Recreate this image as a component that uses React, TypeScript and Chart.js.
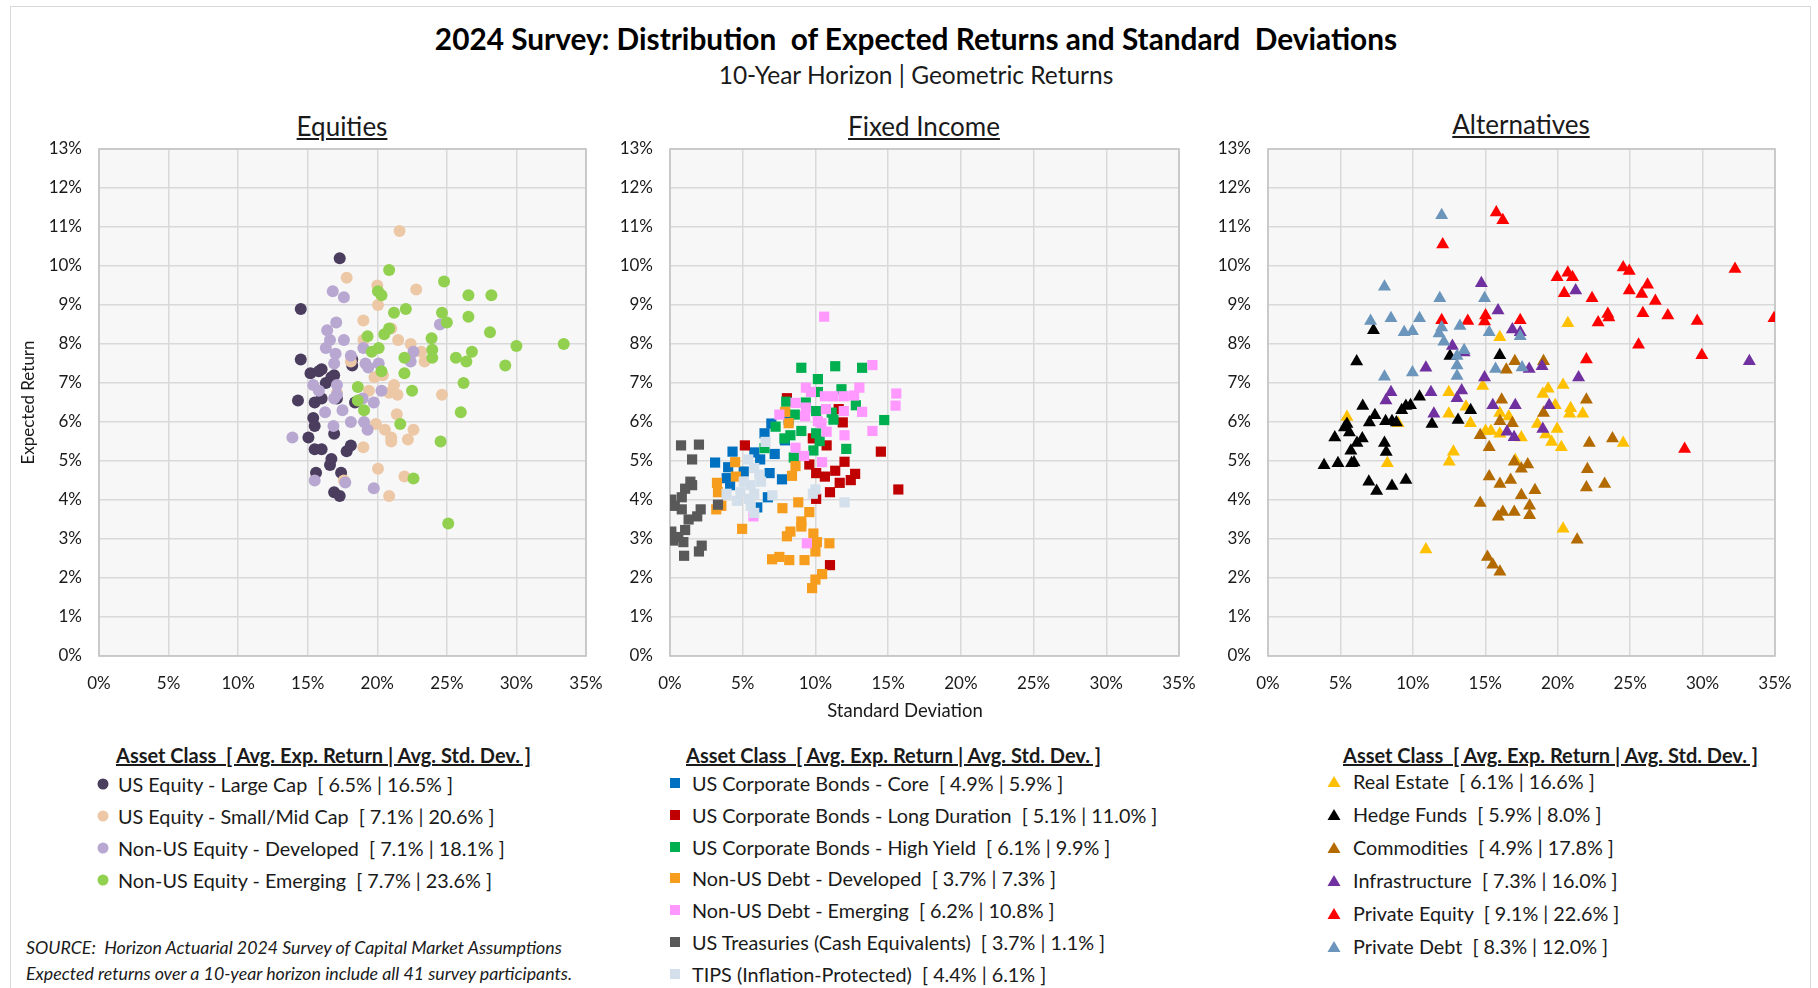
import React, { useEffect, useRef } from "react";
import { Chart, registerables } from "chart.js";

Chart.register(...registerables);

// ---------- DATA: [standard deviation %, expected return %] ----------
// Equities
const usLargeCap = [
  [17.3, 10.2], [14.5, 8.9], [14.5, 7.6], [15.2, 7.25], [16.0, 7.35], [16.7, 7.15], [16.3, 7.0], [18.2, 7.45],
  [18.2, 7.6], [14.3, 6.55], [15.5, 6.5], [16.0, 6.6], [17.1, 6.6], [18.4, 6.5], [15.4, 6.1], [15.5, 5.9],
  [16.9, 5.7], [15.05, 5.6], [15.5, 5.3], [16.0, 5.3], [17.8, 5.25], [18.1, 5.4], [16.7, 5.05], [16.6, 4.9],
  [17.4, 4.7], [15.6, 4.7], [16.9, 4.2], [17.3, 4.1], [16.9, 7.2], [15.8, 7.3],
];
const usSmallMidCap = [
  [21.6, 10.9], [17.8, 9.7], [20.0, 9.5], [22.8, 9.4], [20.05, 9.0], [19.0, 8.6], [21.0, 8.4], [19.0, 8.1],
  [21.5, 8.1], [22.4, 8.0], [23.15, 7.8], [23.4, 7.55], [18.1, 7.55], [19.8, 7.15], [20.4, 7.2], [21.2, 6.95],
  [21.45, 6.7], [20.85, 6.75], [19.4, 6.8], [24.65, 6.7], [17.1, 6.75], [21.4, 6.2], [19.9, 5.95], [20.55, 5.8],
  [21.0, 5.6], [21.0, 5.5], [22.2, 5.55], [22.6, 5.8], [19.0, 5.35], [20.05, 4.8], [21.95, 4.6], [17.6, 4.5],
  [20.85, 4.1],
];
const nonUsEquityDev = [
  [16.8, 9.35], [17.6, 9.2], [17.05, 8.55], [16.4, 8.35], [16.6, 8.1], [17.6, 8.1], [16.3, 7.9], [17.0, 7.75],
  [18.1, 7.7], [19.0, 7.9], [16.9, 7.5], [19.15, 7.5], [20.1, 7.5], [22.6, 7.8], [22.4, 7.55], [24.5, 8.5],
  [19.35, 7.4], [15.4, 6.95], [17.1, 6.95], [15.8, 6.8], [17.1, 6.7], [16.9, 6.6], [20.3, 6.8], [19.75, 6.5],
  [18.95, 6.6], [16.25, 6.25], [17.5, 6.3], [16.85, 5.9], [18.1, 6.0], [19.05, 6.0], [19.3, 5.8], [13.9, 5.6],
  [15.5, 4.5], [17.7, 4.45], [19.75, 4.3],
];
const nonUsEquityEm = [
  [20.85, 9.9], [24.8, 9.6], [20.05, 9.35], [20.3, 9.25], [26.55, 9.25], [28.2, 9.25], [21.2, 8.8], [22.05, 8.9],
  [24.65, 8.8], [25.0, 8.55], [26.55, 8.7], [20.85, 8.4], [20.5, 8.25], [19.3, 8.2], [23.9, 8.15], [28.1, 8.3],
  [30.0, 7.95], [33.4, 8.0], [20.1, 7.9], [19.6, 7.8], [23.95, 7.85], [26.8, 7.8], [21.95, 7.65], [23.95, 7.65],
  [25.65, 7.65], [26.4, 7.55], [29.2, 7.45], [20.3, 7.3], [21.95, 7.25], [18.6, 6.9], [22.5, 6.8], [26.2, 7.0],
  [18.6, 6.55], [19.05, 6.3], [26.0, 6.25], [21.65, 5.95], [24.55, 5.5], [22.6, 4.55], [25.1, 3.4],
];

// Fixed income
const corpCore = [
  [4.3, 5.24], [3.1, 4.96], [4.0, 4.84], [5.8, 5.22], [6.5, 5.71], [6.97, 5.96], [7.2, 5.18], [6.2, 5.04],
  [6.85, 4.69], [7.7, 4.53], [3.9, 4.56], [4.13, 4.38], [6.73, 4.07], [6.0, 3.81], [7.9, 5.53], [8.16, 6.06],
  [5.07, 4.73],
];
const corpLong = [
  [8.04, 6.61], [5.15, 5.4], [11.88, 5.99], [11.6, 6.33], [10.77, 5.4], [9.82, 5.58], [14.5, 5.24], [12.0, 4.98],
  [9.58, 4.91], [10.05, 4.69], [11.36, 4.75], [12.73, 4.67], [10.65, 4.6], [11.67, 4.44], [12.43, 4.51], [15.7, 4.27],
  [11.0, 4.2], [10.05, 4.03], [11.0, 2.33],
];
const corpHighYield = [
  [9.03, 7.39], [11.36, 7.43], [13.21, 7.39], [10.17, 7.1], [11.79, 6.84], [10.17, 6.77], [7.99, 6.52], [9.34, 6.5],
  [12.78, 6.43], [8.58, 6.19], [10.05, 6.28], [11.12, 6.24], [11.24, 6.06], [14.73, 6.05], [7.26, 5.88], [9.03, 5.77],
  [8.28, 5.66], [7.87, 5.58], [10.05, 5.71], [10.29, 5.51], [6.5, 5.33], [12.12, 5.31], [8.51, 5.09], [9.86, 5.27],
];
const nonUsDebtDev = [
  [7.92, 6.26], [8.16, 5.97], [4.48, 4.97], [8.63, 4.87], [8.39, 4.62], [4.53, 4.6], [3.23, 4.44], [3.3, 4.2],
  [3.53, 3.85], [3.18, 3.76], [8.82, 3.94], [7.73, 3.79], [9.58, 3.69], [9.03, 3.45], [9.03, 3.32], [4.96, 3.26],
  [8.28, 3.19], [8.04, 3.07], [9.86, 3.14], [10.1, 2.92], [10.96, 2.89], [10.0, 2.68], [7.02, 2.48], [7.52, 2.54],
  [8.2, 2.46], [9.25, 2.46], [10.46, 2.1], [10.0, 1.96], [9.77, 1.74],
];
const nonUsDebtEm = [
  [10.6, 8.7], [13.92, 7.46], [15.56, 6.73], [15.51, 6.42], [9.34, 6.88], [9.69, 6.77], [13.02, 6.88], [10.65, 6.66],
  [11.24, 6.66], [11.95, 6.66], [12.66, 6.68], [8.63, 6.49], [9.34, 6.37], [10.72, 6.33], [11.95, 6.28], [13.21, 6.26],
  [7.52, 6.19], [9.29, 6.15], [10.17, 6.02], [10.41, 5.97], [10.77, 5.75], [13.92, 5.77], [12.0, 5.66], [8.63, 5.34],
  [9.22, 5.13], [10.46, 4.97], [5.74, 3.58], [9.41, 2.89],
];
const treasuries = [
  [0.76, 5.4], [1.99, 5.42], [1.52, 5.04], [1.4, 4.47], [1.52, 4.38], [1.04, 4.29], [0.09, 4.01], [0.81, 4.07],
  [0.33, 3.85], [0.81, 3.76], [2.11, 3.76], [1.87, 3.58], [3.3, 3.88], [1.28, 3.5], [0.09, 3.19], [0.57, 3.05],
  [1.04, 3.23], [0.21, 2.96], [0.92, 2.92], [2.18, 2.83], [1.99, 2.68], [0.97, 2.57],
];
const tips = [
  [6.57, 5.49], [5.38, 5.04], [5.79, 4.82], [6.14, 4.65], [5.07, 4.47], [6.26, 4.47], [5.55, 4.38], [3.89, 4.16],
  [4.84, 4.2], [5.79, 4.16], [7.04, 4.12], [4.6, 3.98], [5.55, 3.85], [5.79, 3.67], [10.0, 4.27], [9.82, 4.16],
  [12.0, 3.94], [5.43, 4.03],
];

// Alternatives
const realEstate = [
  [20.7, 8.53], [16.0, 8.17], [14.82, 6.92], [12.48, 6.76], [18.97, 6.72], [19.34, 6.85], [20.37, 6.95], [5.45, 6.13],
  [8.98, 5.97], [12.48, 6.21], [13.67, 6.39], [13.98, 5.97], [16.0, 6.23], [16.62, 6.14], [19.83, 6.43], [20.89, 6.35],
  [20.82, 6.21], [21.73, 6.21], [18.6, 5.95], [15.02, 5.77], [15.39, 5.77], [16.0, 5.7], [17.49, 5.6], [19.17, 5.68],
  [19.96, 5.82], [19.58, 5.49], [20.25, 5.35], [24.52, 5.46], [12.8, 5.24], [12.51, 4.98], [8.24, 4.94], [17.07, 5.02],
  [20.37, 3.26], [10.9, 2.73],
];
const hedgeFunds = [
  [7.28, 8.35], [6.12, 7.55], [12.56, 7.69], [16.0, 7.71], [10.46, 6.65], [9.84, 6.43], [9.52, 6.41], [9.23, 6.3],
  [6.54, 6.41], [7.38, 6.17], [7.0, 5.99], [8.12, 6.02], [8.56, 6.02], [8.86, 5.99], [5.45, 5.95], [5.28, 5.86],
  [5.62, 5.73], [6.51, 5.58], [4.61, 5.6], [6.14, 5.46], [8.04, 5.46], [5.72, 5.26], [8.16, 5.23], [11.32, 5.95],
  [13.12, 6.05], [13.99, 6.3], [3.87, 4.89], [4.83, 4.94], [5.77, 4.94], [5.94, 4.96], [6.96, 4.47], [7.5, 4.23],
  [8.56, 4.36], [9.52, 4.51],
];
const commodities = [
  [17.04, 7.56], [19.02, 7.56], [16.45, 7.34], [16.13, 6.57], [21.98, 6.57], [19.02, 6.23], [16.01, 6.02], [16.87, 5.97],
  [14.65, 5.66], [15.27, 5.35], [22.18, 5.46], [23.78, 5.58], [17.0, 4.98], [17.49, 4.8], [17.93, 4.91], [22.05, 4.79],
  [15.27, 4.6], [16.75, 4.51], [16.01, 4.41], [18.43, 4.25], [21.98, 4.32], [23.24, 4.41], [17.49, 4.12], [14.65, 3.92],
  [18.06, 3.85], [18.06, 3.61], [17.0, 3.69], [16.21, 3.69], [15.89, 3.57], [21.34, 2.98], [15.15, 2.54], [15.52, 2.34],
  [16.01, 2.16],
];
const infrastructure = [
  [14.73, 9.56], [21.24, 9.37], [15.88, 8.86], [16.87, 8.37], [17.41, 8.3], [12.73, 7.95], [13.54, 7.78], [18.03, 7.36],
  [18.92, 7.43], [33.23, 7.56], [10.9, 7.39], [14.95, 7.14], [21.44, 7.14], [8.49, 6.76], [8.14, 6.55], [11.25, 6.76],
  [13.37, 6.81], [13.05, 6.61], [15.52, 6.43], [17.07, 6.43], [19.41, 6.43], [11.45, 6.21], [16.5, 5.75], [16.99, 5.61],
  [18.97, 5.82],
];
const privateEquity = [
  [15.76, 11.37], [16.21, 11.17], [12.06, 10.55], [19.96, 9.71], [20.7, 9.83], [21.02, 9.71], [24.52, 9.96], [24.94, 9.87],
  [32.24, 9.92], [20.45, 9.3], [22.37, 9.17], [24.94, 9.37], [25.8, 9.28], [26.2, 9.52], [26.74, 9.1], [23.46, 8.77],
  [23.53, 8.68], [22.79, 8.55], [25.88, 8.79], [27.6, 8.73], [29.63, 8.59], [34.93, 8.66], [11.99, 8.61], [13.79, 8.59],
  [15.02, 8.73], [14.95, 8.58], [17.41, 8.61], [25.58, 7.98], [29.95, 7.71], [21.98, 7.6], [28.76, 5.31],
];
const privateDebt = [
  [11.99, 11.3], [8.04, 9.47], [11.86, 9.17], [14.95, 9.17], [7.08, 8.59], [8.49, 8.66], [10.46, 8.66], [9.4, 8.3],
  [9.97, 8.33], [11.81, 8.27], [11.99, 8.42], [13.25, 8.46], [12.14, 8.06], [15.27, 8.3], [17.41, 8.2], [13.54, 7.84],
  [13.05, 7.69], [13.05, 7.45], [13.05, 7.18], [15.71, 7.36], [17.54, 7.4], [8.04, 7.16], [9.97, 7.27],
];

// Axis ticks
const xTickValues = [0, 5, 10, 15, 20, 25, 30, 35];
const yTickValues = [0, 1, 2, 3, 4, 5, 6, 7, 8, 9, 10, 11, 12, 13];

// Legend labels
const equityLabels = [
  "US Equity - Large Cap  [ 6.5% | 16.5% ]",
  "US Equity - Small/Mid Cap  [ 7.1% | 20.6% ]",
  "Non-US Equity - Developed  [ 7.1% | 18.1% ]",
  "Non-US Equity - Emerging  [ 7.7% | 23.6% ]",
];
const fixedLabels = [
  "US Corporate Bonds - Core  [ 4.9% | 5.9% ]",
  "US Corporate Bonds - Long Duration  [ 5.1% | 11.0% ]",
  "US Corporate Bonds - High Yield  [ 6.1% | 9.9% ]",
  "Non-US Debt - Developed  [ 3.7% | 7.3% ]",
  "Non-US Debt - Emerging  [ 6.2% | 10.8% ]",
  "US Treasuries (Cash Equivalents)  [ 3.7% | 1.1% ]",
  "TIPS (Inflation-Protected)  [ 4.4% | 6.1% ]",
];
const altLabels = [
  "Real Estate  [ 6.1% | 16.6% ]",
  "Hedge Funds  [ 5.9% | 8.0% ]",
  "Commodities  [ 4.9% | 17.8% ]",
  "Infrastructure  [ 7.3% | 16.0% ]",
  "Private Equity  [ 9.1% | 22.6% ]",
  "Private Debt  [ 8.3% | 12.0% ]",
];

const equityColors = ["#4B3D5E", "#EDC8A6", "#B7A7D1", "#92D050"];
const fixedColors = ["#0070C0", "#C00000", "#00B050", "#F79D1E", "#FF99FF", "#595959", "#D3E0EB"];
const altColors = ["#FFC000", "#000000", "#B36A00", "#7030A0", "#FF0000", "#6C95BC"];

const equitySeries = [usLargeCap, usSmallMidCap, nonUsEquityDev, nonUsEquityEm];
const fixedSeries = [corpCore, corpLong, corpHighYield, nonUsDebtDev, nonUsDebtEm, treasuries, tips];
const altSeries = [realEstate, hedgeFunds, commodities, infrastructure, privateEquity, privateDebt];

const FONT = "Lato, 'Open Sans', sans-serif";
const TEXT = "#1a1a1a";

const PLOT_TOP = 149;
const PLOT_BOTTOM = 656;
const CANVAS_TOP = 130;
const CANVAS_H = 600;

const plotPlugin = {
  id: "plotFrame",
  beforeDraw(chart: any) {
    const { ctx, chartArea: a } = chart;
    ctx.save();
    ctx.fillStyle = "#F7F7F7";
    ctx.fillRect(a.left, a.top, a.right - a.left, a.bottom - a.top);
    ctx.restore();
  },
  beforeDatasetsDraw(chart: any) {
    const { ctx, chartArea: a } = chart;
    ctx.save();
    ctx.strokeStyle = "#C4C4C4";
    ctx.lineWidth = 1.6;
    ctx.strokeRect(a.left, a.top, a.right - a.left, a.bottom - a.top);
    ctx.restore();
  },
};

function makeChart(
  canvas: HTMLCanvasElement,
  series: number[][][],
  labels: string[],
  colors: string[],
  style: string,
  radius: number,
  yAxisWidth: number,
  padRight: number,
  yTitle: string | null
) {
  const n = series.length;
  const datasets = series.map((s, i) => ({
    label: labels[i],
    data: s.map(([x, y]) => ({ x, y })),
    pointStyle: style,
    pointRadius: radius,
    pointHoverRadius: radius,
    backgroundColor: colors[i],
    borderColor: colors[i],
    borderWidth: 0,
    order: n - i,
  }));
  const tickFont = { family: FONT, size: 17 };
  const xAxisH = CANVAS_H - (PLOT_BOTTOM - CANVAS_TOP);
  return new Chart(canvas, {
    type: "scatter",
    data: { datasets },
    plugins: [plotPlugin],
    options: {
      animation: false,
      responsive: false,
      devicePixelRatio: 1,
      events: [],
      layout: { padding: { left: 0, right: padRight, top: PLOT_TOP - CANVAS_TOP, bottom: 0 } },
      plugins: { legend: { display: false }, tooltip: { enabled: false } },
      scales: {
        x: {
          type: "linear",
          min: 0,
          max: 35,
          afterBuildTicks: (scale: any) => {
            scale.ticks = xTickValues.map((v) => ({ value: v }));
          },
          afterFit: (scale: any) => {
            scale.height = xAxisH;
            scale.paddingLeft = 0;
            scale.paddingRight = 0;
          },
          ticks: {
            callback: (v: any) => v + "%",
            font: tickFont,
            color: TEXT,
            padding: 17,
            maxRotation: 0,
            autoSkip: false,
          },
          grid: { color: "#D9D9D9", lineWidth: 1.5, drawTicks: false },
          border: { display: false },
        },
        y: {
          type: "linear",
          min: 0,
          max: 13,
          afterBuildTicks: (scale: any) => {
            scale.ticks = yTickValues.map((v) => ({ value: v }));
          },
          afterFit: (scale: any) => {
            scale.width = yAxisWidth;
            scale.paddingTop = 0;
            scale.paddingBottom = 0;
          },
          ticks: {
            callback: (v: any) => v + "%",
            font: tickFont,
            color: TEXT,
            padding: 17,
            autoSkip: false,
          },
          grid: { color: "#D9D9D9", lineWidth: 1.5, drawTicks: false },
          border: { display: false },
          title: {
            display: !!yTitle,
            text: yTitle || "",
            font: { family: FONT, size: 17 },
            color: TEXT,
            padding: { top: 18, bottom: 0 },
          },
        },
      },
    } as any,
  });
}

function Marker({ style, color }: { style: string; color: string }) {
  if (style === "circle") {
    return (
      <svg width="12" height="12" style={{ display: "block" }}>
        <circle cx="6" cy="6" r="5.5" fill={color} />
      </svg>
    );
  }
  if (style === "rect") {
    return (
      <svg width="12" height="12" style={{ display: "block" }}>
        <rect x="1" y="1" width="10" height="10" fill={color} />
      </svg>
    );
  }
  return (
    <svg width="14" height="12" style={{ display: "block" }}>
      <polygon points="7,1 13.5,12 0.5,12" fill={color} />
    </svg>
  );
}

function Legend({
  left,
  markerX,
  textX,
  top,
  step,
  labels,
  colors,
  style,
}: {
  left: number;
  markerX: number;
  textX: number;
  top: number;
  step: number;
  labels: string[];
  colors: string[];
  style: string;
}) {
  return (
    <>
      <div
        style={{
          position: "absolute",
          left,
          top: 755,
          transform: "translateY(-50%)",
          font: `bold 20px ${FONT}`,
          textDecoration: "underline",
          whiteSpace: "pre",
          color: TEXT,
          lineHeight: "24px",
        }}
      >
        {"Asset Class  [ Avg. Exp. Return | Avg. Std. Dev. ]"}
      </div>
      {labels.map((lab, i) => (
        <React.Fragment key={lab}>
          <div
            style={{
              position: "absolute",
              left: markerX,
              top: top + i * step,
              transform: "translate(-50%,-50%)",
            }}
          >
            <Marker style={style} color={colors[i]} />
          </div>
          <div
            style={{
              position: "absolute",
              left: textX,
              top: top + i * step,
              transform: "translateY(-50%)",
              font: `19.8px ${FONT}`,
              whiteSpace: "pre",
              color: TEXT,
              lineHeight: "24px",
            }}
          >
            {lab}
          </div>
        </React.Fragment>
      ))}
    </>
  );
}

function CenterText({ x, y, text, css }: { x: number; y: number; text: string; css: any }) {
  return (
    <div
      style={{
        position: "absolute",
        left: x,
        top: y,
        transform: "translate(-50%,-50%)",
        whiteSpace: "pre",
        color: TEXT,
        ...css,
      }}
    >
      {text}
    </div>
  );
}

export default function App() {
  const eqRef = useRef<HTMLCanvasElement>(null);
  const fiRef = useRef<HTMLCanvasElement>(null);
  const altRef = useRef<HTMLCanvasElement>(null);

  useEffect(() => {
    const charts = [
      makeChart(eqRef.current!, equitySeries, equityLabels, equityColors, "circle", 6, 99, 610 - 586, "Expected Return"),
      makeChart(fiRef.current!, fixedSeries, fixedLabels, fixedColors, "rect", 7.2, 670 - 615, 1205 - 1179, null),
      makeChart(altRef.current!, altSeries, altLabels, altColors, "triangle", 7.5, 1268 - 1210, 1798 - 1775, null),
    ];
    return () => charts.forEach((c) => c.destroy());
  }, []);

  return (
    <div
      style={{
        position: "absolute",
        left: 0,
        top: 0,
        width: 1818,
        height: 988,
        overflow: "hidden",
        background: "#ffffff",
        fontFamily: FONT,
      }}
    >
      <div
        style={{
          position: "absolute",
          left: 10,
          top: 6,
          width: 1801,
          height: 1000,
          border: "1px solid #D9D9D9",
          boxSizing: "border-box",
        }}
      />
      <CenterText
        x={916}
        y={38}
        text={"2024 Survey: Distribution  of Expected Returns and Standard  Deviations"}
        css={{ font: `bold 29.8px ${FONT}`, color: "#000" }}
      />
      <CenterText x={916} y={74} text={"10-Year Horizon | Geometric Returns"} css={{ font: `24.5px ${FONT}` }} />
      <CenterText x={342} y={126} text="Equities" css={{ font: `26px ${FONT}`, textDecoration: "underline" }} />
      <CenterText x={924} y={126} text="Fixed Income" css={{ font: `26px ${FONT}`, textDecoration: "underline" }} />
      <CenterText x={1521} y={124} text="Alternatives" css={{ font: `26px ${FONT}`, textDecoration: "underline" }} />

      <canvas ref={eqRef} width={610} height={CANVAS_H} style={{ position: "absolute", left: 0, top: CANVAS_TOP, width: 610, height: CANVAS_H }} />
      <canvas ref={fiRef} width={590} height={CANVAS_H} style={{ position: "absolute", left: 615, top: CANVAS_TOP, width: 590, height: CANVAS_H }} />
      <canvas ref={altRef} width={588} height={CANVAS_H} style={{ position: "absolute", left: 1210, top: CANVAS_TOP, width: 588, height: CANVAS_H }} />

      <CenterText x={905} y={710} text="Standard Deviation" css={{ font: `18.5px ${FONT}` }} />

      <Legend left={116} markerX={103} textX={118} top={784} step={32} labels={equityLabels} colors={equityColors} style="circle" />
      <Legend left={686} markerX={675} textX={692} top={783} step={31.8} labels={fixedLabels} colors={fixedColors} style="rect" />
      <Legend left={1343} markerX={1334} textX={1353} top={781} step={33} labels={altLabels} colors={altColors} style="triangle" />

      <div
        style={{
          position: "absolute",
          left: 26,
          top: 934,
          font: `italic 17.8px ${FONT}`,
          lineHeight: "26px",
          color: TEXT,
          whiteSpace: "pre",
        }}
      >
        {"SOURCE:  Horizon Actuarial 2024 Survey of Capital Market Assumptions\nExpected returns over a 10-year horizon include all 41 survey participants."}
      </div>
    </div>
  );
}
